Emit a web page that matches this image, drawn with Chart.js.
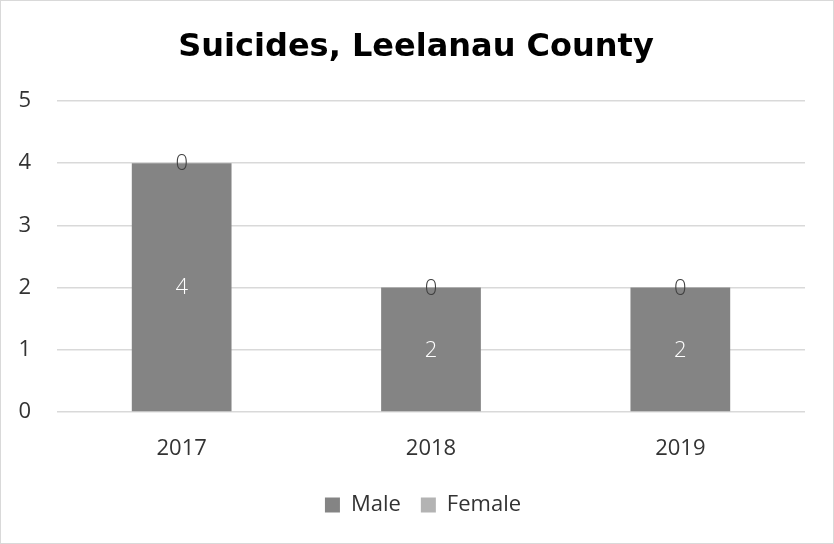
<!DOCTYPE html>
<html>
<head>
<meta charset="utf-8">
<script src="https://cdn.jsdelivr.net/npm/chart.js@4"></script>
<style>
html,body{margin:0;padding:0;background:#fff;}
#wrap{position:absolute;left:0;top:0;width:832px;height:542px;border:1px solid #d9d9d9;}
canvas{display:block;}
</style>
</head>
<body>
<div id="wrap"><canvas id="c" width="832" height="542"></canvas></div>
<script>
const categories = ["2017", "2018", "2019"];
const maleValues = [4, 2, 2];
const femaleValues = [0, 0, 0];
const yTicks = [0, 1, 2, 3, 4, 5];
const titleText = "Suicides, Leelanau County";

const FONT = '"Open Sans", "Noto Sans", sans-serif';

const labelPlugin = {
  id: 'barLabels',
  afterLayout(chart) {
    if (chart.legend) { chart.legend.left += 7; chart.legend.right += 7; }
  },
  afterDatasetsDraw(chart) {
    const ctx = chart.ctx;
    ctx.save();
    ctx.textAlign = 'center';
    ctx.textBaseline = 'middle';
    ctx.font = '300 22px ' + FONT;
    chart.data.datasets.forEach((ds, i) => {
      const meta = chart.getDatasetMeta(i);
      meta.data.forEach((bar, j) => {
        const p = bar.getProps(['x', 'y', 'base'], true);
        ctx.fillStyle = i === 0 ? '#ffffff' : '#404040';
        ctx.fillText(String(ds.data[j]), p.x, (p.y + p.base) / 2 + 1);
      });
    });
    ctx.restore();
  }
};

new Chart(document.getElementById('c'), {
  type: 'bar',
  data: {
    labels: categories,
    datasets: [
      { label: 'Male', data: maleValues, backgroundColor: '#848484', categoryPercentage: 0.8, barPercentage: 0.5 },
      { label: 'Female', data: femaleValues, backgroundColor: '#b3b3b3', categoryPercentage: 0.8, barPercentage: 0.5 }
    ]
  },
  options: {
    responsive: false,
    animation: false,
    devicePixelRatio: 1,
    layout: { padding: { left: 4, right: 6, top: 0, bottom: 17 } },
    plugins: {
      title: {
        display: true,
        text: titleText,
        color: '#000000',
        font: { family: '"DejaVu Sans", sans-serif', size: 32, weight: 'bold' },
        padding: { top: 27, bottom: 34.6 }
      },
      legend: {
        position: 'bottom',
        labels: {
          color: '#333333',
          boxWidth: 15,
          boxHeight: 15,
          padding: 20,
          font: { family: FONT, size: 22 }
        }
      },
      tooltip: { enabled: false }
    },
    scales: {
      x: {
        stacked: true,
        grid: { display: false, drawTicks: false },
        border: { display: false },
        afterFit(scale) { scale.height = 62; },
        ticks: { color: '#333333', padding: 24, font: { family: FONT, size: 22 } }
      },
      y: {
        stacked: true,
        min: 0,
        max: 5,
        afterBuildTicks(scale) { scale.ticks = yTicks.map(v => ({ value: v })); },
        afterFit(scale) { scale.width = 52; },
        grid: { color: '#d9d9d9', lineWidth: 1.5, drawTicks: false },
        border: { display: false },
        ticks: { color: '#333333', padding: 26, font: { family: FONT, size: 22 } }
      },
      yRightSpace: {
        position: 'right',
        display: true,
        min: 0,
        max: 5,
        afterFit(scale) { scale.width = 22; },
        grid: { display: false, drawTicks: false },
        border: { display: false },
        ticks: { display: false }
      }
    }
  },
  plugins: [labelPlugin]
});
</script>
</body>
</html>
